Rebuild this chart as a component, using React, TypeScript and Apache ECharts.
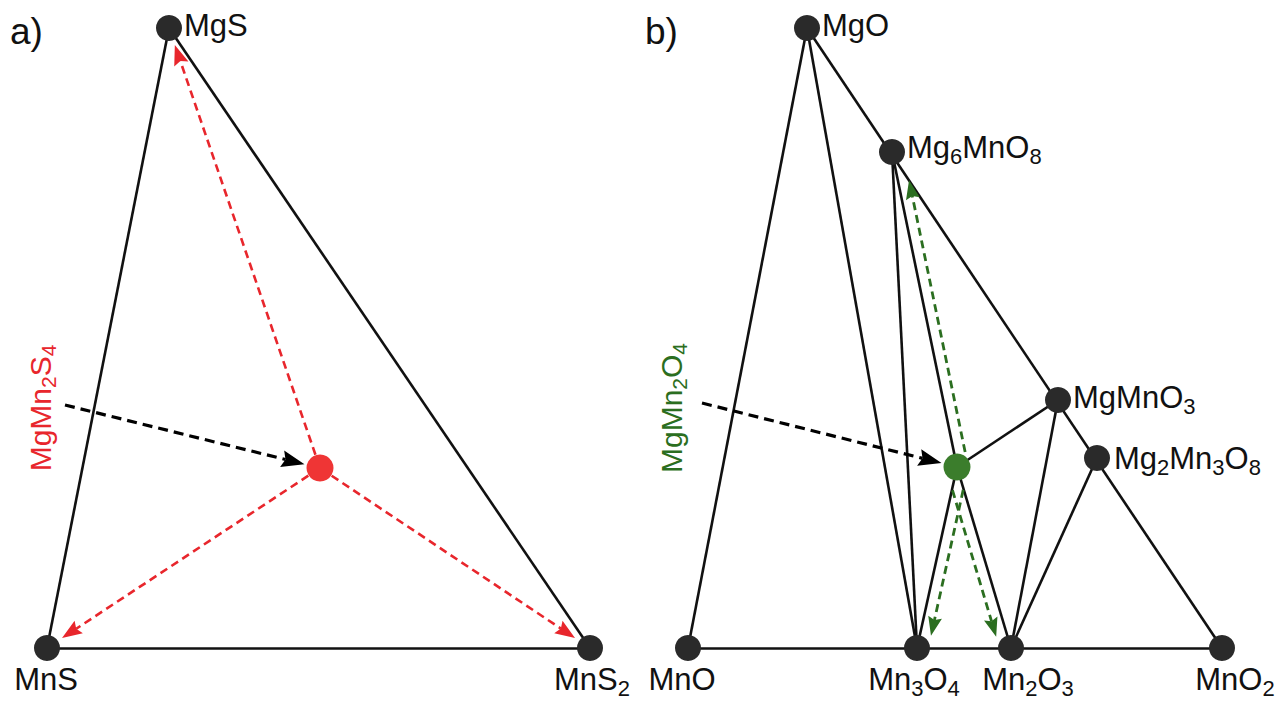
import React, { useEffect, useRef } from 'react';
import * as echarts from 'echarts';

// ---------- Panel a: Mg–Mn–S ----------
const phaseNamesA = ['MgS', 'MnS', 'MnS2'];
const phaseXA = [169, 47, 590];
const phaseYA = [28, 648, 648];
const targetNameA = 'MgMn2S4';
const targetA = [320, 468];
const tieLinesA: number[][] = [[0, 1], [0, 2], [1, 2]];
const decompPhasesA = [0, 1, 2];
const pointerStartA = [65, 405];

// ---------- Panel b: Mg–Mn–O ----------
const phaseNamesB = ['MgO', 'MnO', 'Mn3O4', 'Mn2O3', 'MnO2', 'Mg6MnO8', 'MgMnO3', 'Mg2Mn3O8'];
const phaseXB = [807, 688, 917, 1011, 1222, 892, 1058, 1097];
const phaseYB = [28, 648, 648, 648, 648, 152, 400, 458];
const targetNameB = 'MgMn2O4';
const targetB = [957, 467];
// index 8 = target MgMn2O4
const tieLinesB: number[][] = [
  [0, 1], [0, 4], [1, 4], [0, 2], [5, 2], [5, 8], [8, 2], [8, 3], [8, 6], [6, 3], [7, 3],
];
const decompPhasesB = [5, 2, 3];
const pointerStartB = [702, 403];

// ---------- styles (not data) ----------
const FONT = 'Liberation Sans, Arial, Helvetica, sans-serif';
const LINE = '#111111';
const DOT = '#2a2a2a';
const RED = '#e8262c';
const RED_DOT = '#ef3535';
const GREEN = '#2b6e20';
const GREEN_DOT = '#3b7d2c';
const FS = 31;
const FS_SUB = 22;

const labelStyle: Record<string, { pos: string; dx: number; dy: number; dist?: number }> = {
  MgS: { pos: 'right', dx: 0, dy: -3, dist: 2 },
  MnS: { pos: 'inside', dx: -1, dy: 31 },
  MnS2: { pos: 'inside', dx: 2, dy: 31 },
  MgO: { pos: 'right', dx: 0, dy: -3, dist: 2 },
  MnO: { pos: 'inside', dx: -6, dy: 31 },
  Mn3O4: { pos: 'inside', dx: -3, dy: 31 },
  Mn2O3: { pos: 'inside', dx: 17, dy: 31 },
  MnO2: { pos: 'inside', dx: 13, dy: 31 },
  Mg6MnO8: { pos: 'right', dx: 0, dy: -5, dist: 2 },
  MgMnO3: { pos: 'right', dx: 0, dy: -3, dist: 2 },
  Mg2Mn3O8: { pos: 'right', dx: 0, dy: 0, dist: 4 },
};

const sub = (s: string) => s.replace(/(\d)/g, '{s|$1}');

// arrow from a point (a) toward a target (b), stopping short by gaps, optional side shift
function arrowFromTo(a: number[], b: number[], startGap: number, endGap: number, shift = 0) {
  const dx = b[0] - a[0];
  const dy = b[1] - a[1];
  const len = Math.hypot(dx, dy);
  const ux = dx / len;
  const uy = dy / len;
  const nx = -uy;
  const ny = ux;
  return [
    a[0] + ux * startGap + nx * shift,
    a[1] + uy * startGap + ny * shift,
    b[0] - ux * endGap + nx * shift,
    b[1] - uy * endGap + ny * shift,
  ];
}

const redArrows = decompPhasesA.map((i) =>
  arrowFromTo(targetA, [phaseXA[i], phaseYA[i]], 14, 18)
);
const greenShift = [1, -1, 1];
const greenStartGap = [13, 21, 21];
const greenEndGap = [31, 15, 15];
const greenArrows = decompPhasesB.map((i, k) =>
  arrowFromTo(targetB, [phaseXB[i], phaseYB[i]], greenStartGap[k], greenEndGap[k], greenShift[k] * 11)
);
const blackArrows = [
  arrowFromTo(pointerStartA, targetA, 0, 16),
  arrowFromTo(pointerStartB, targetB, 0, 16),
];

function arrowSeries(data: number[][], color: string, width: number, dash: number[], headLen: number, headW: number) {
  return {
    type: 'custom',
    coordinateSystem: 'cartesian2d',
    silent: true,
    z: 3,
    data,
    renderItem: (_params: any, api: any) => {
      const a = api.coord([api.value(0), api.value(1)]);
      const b = api.coord([api.value(2), api.value(3)]);
      const dx = b[0] - a[0];
      const dy = b[1] - a[1];
      const len = Math.hypot(dx, dy);
      const ux = dx / len;
      const uy = dy / len;
      const nx = -uy;
      const ny = ux;
      const bx = b[0] - ux * headLen;
      const by = b[1] - uy * headLen;
      const notch = headLen * 0.15;
      return {
        type: 'group',
        children: [
          {
            type: 'line',
            shape: { x1: a[0], y1: a[1], x2: bx + ux * notch, y2: by + uy * notch },
            style: { stroke: color, lineWidth: width, lineDash: dash, fill: null },
          },
          {
            type: 'polygon',
            shape: {
              points: [
                [b[0], b[1]],
                [bx + (nx * headW) / 2, by + (ny * headW) / 2],
                [bx + ux * notch, by + uy * notch],
                [bx - (nx * headW) / 2, by - (ny * headW) / 2],
              ],
            },
            style: { fill: color, stroke: null },
          },
        ],
      };
    },
  };
}

function phasePoints(names: string[], xs: number[], ys: number[]) {
  return names.map((n, i) => {
    const st = labelStyle[n];
    const label: any = { position: st.pos, offset: [st.dx, st.dy] };
    if (st.dist !== undefined) label.distance = st.dist;
    return { name: n, value: [xs[i], ys[i]], label };
  });
}

export default function App() {
  const ref = useRef<HTMLDivElement>(null);
  useEffect(() => {
    if (!ref.current) return;
    const chart = echarts.init(ref.current, undefined, { renderer: 'svg' });

    const ptsB = phaseXB.map((x, i) => [x, phaseYB[i]]).concat([targetB]);
    const ptsA = phaseXA.map((x, i) => [x, phaseYA[i]]);

    const option: any = {
      animation: false,
      backgroundColor: '#ffffff',
      grid: { left: 0, right: 0, top: 0, bottom: 0 },
      xAxis: { type: 'value', min: 0, max: 1288, show: false },
      yAxis: { type: 'value', min: 0, max: 702, inverse: true, show: false },
      series: [
        {
          type: 'lines',
          coordinateSystem: 'cartesian2d',
          silent: true,
          z: 2,
          lineStyle: { color: LINE, width: 2.6, opacity: 1, curveness: 0 },
          data: tieLinesA
            .map(([i, j]) => ({ coords: [ptsA[i], ptsA[j]] }))
            .concat(tieLinesB.map(([i, j]) => ({ coords: [ptsB[i], ptsB[j]] }))),
        },
        arrowSeries(redArrows, RED, 2.6, [8, 5], 20, 15),
        arrowSeries(greenArrows, GREEN, 2.8, [8, 5], 19, 14),
        arrowSeries(blackArrows, '#000000', 3.2, [10, 6], 23, 17),
        {
          type: 'scatter',
          z: 5,
          silent: true,
          symbolSize: 26,
          itemStyle: { color: DOT, opacity: 1 },
          label: {
            show: true,
            formatter: (p: any) => sub(p.name),
            fontSize: FS,
            fontFamily: FONT,
            color: '#111111',
            rich: { s: { fontSize: FS_SUB, fontFamily: FONT, color: '#111111', padding: [18, 0, 0, 0] } },
          },
          data: phasePoints(phaseNamesA, phaseXA, phaseYA).concat(
            phasePoints(phaseNamesB, phaseXB, phaseYB)
          ),
        },
        {
          type: 'scatter',
          z: 5,
          silent: true,
          symbolSize: 27,
          label: { show: false },
          data: [
            { name: targetNameA, value: targetA, itemStyle: { color: RED_DOT, opacity: 1 } },
            { name: targetNameB, value: targetB, itemStyle: { color: GREEN_DOT, opacity: 1 } },
          ],
        },
      ],
      graphic: [
        {
          type: 'text',
          x: 10,
          y: 31,
          silent: true,
          style: { text: 'a)', fontSize: 37, fontFamily: FONT, fill: '#111111', align: 'left', verticalAlign: 'middle' },
        },
        {
          type: 'text',
          x: 645,
          y: 31,
          silent: true,
          style: { text: 'b)', fontSize: 37, fontFamily: FONT, fill: '#111111', align: 'left', verticalAlign: 'middle' },
        },
        {
          type: 'text',
          x: 40,
          y: 408,
          rotation: Math.PI / 2,
          silent: true,
          style: {
            text: sub(targetNameA),
            fontSize: 30,
            fontFamily: FONT,
            fill: RED,
            align: 'center',
            verticalAlign: 'middle',
            rich: { s: { fontSize: 21, fontFamily: FONT, fill: RED, padding: [17, 0, 0, 0] } },
          },
        },
        {
          type: 'text',
          x: 671,
          y: 408,
          rotation: Math.PI / 2,
          silent: true,
          style: {
            text: sub(targetNameB),
            fontSize: 30,
            fontFamily: FONT,
            fill: GREEN,
            align: 'center',
            verticalAlign: 'middle',
            rich: { s: { fontSize: 21, fontFamily: FONT, fill: GREEN, padding: [17, 0, 0, 0] } },
          },
        },
      ],
    };
    chart.setOption(option);
    return () => chart.dispose();
  }, []);

  return (
    <div
      ref={ref}
      style={{ position: 'fixed', left: 0, top: 0, width: 1288, height: 702, background: '#fff' }}
    />
  );
}
